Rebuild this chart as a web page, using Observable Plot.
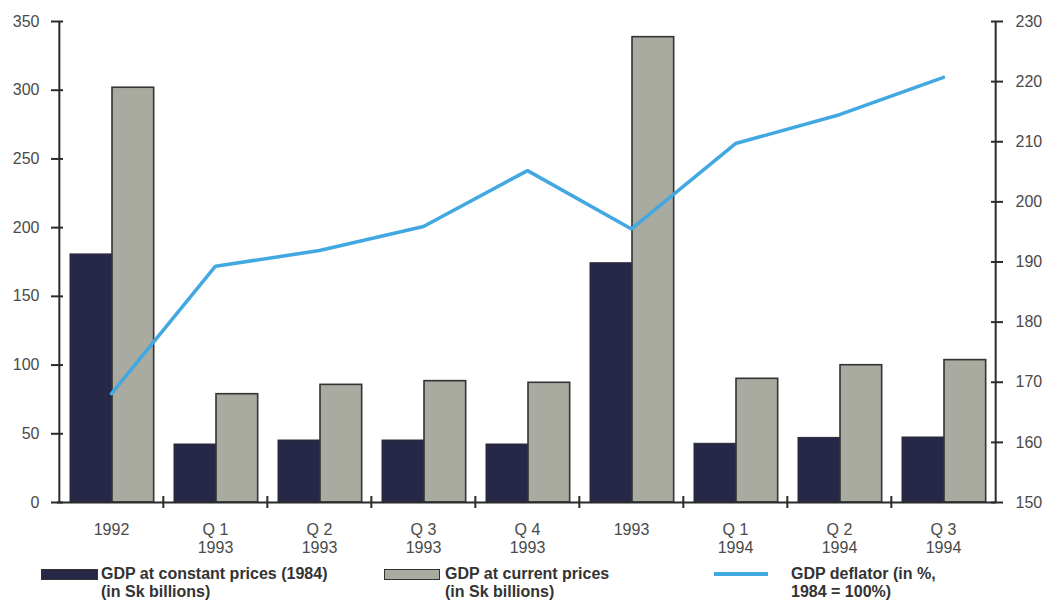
<!DOCTYPE html>
<html>
<head>
<meta charset="utf-8">
<script src="https://cdn.jsdelivr.net/npm/d3@7"></script>
<script src="https://cdn.jsdelivr.net/npm/@observablehq/plot@0.6"></script>
<style>
  html, body { margin: 0; padding: 0; background: #fff; }
  #wrap { position: relative; width: 1044px; height: 600px; font-family: "Liberation Sans", Arial, sans-serif; }
  #chart svg { display: block; }
  .key { position: absolute; top: 565px; font-weight: bold; font-size: 16px; line-height: 18px; color: #333; }
  .swatch { position: absolute; box-sizing: border-box; }
  .key span { display: block; }
</style>
</head>
<body>
<div id="wrap">
  <div id="chart"></div>
  <div class="swatch" style="left:41px;top:569px;width:57px;height:11px;background:#272848;border:1px solid #333;"></div>
  <div class="key" style="left:101px;"><span>GDP at constant prices (1984)</span><span>(in Sk billions)</span></div>
  <div class="swatch" style="left:384px;top:569px;width:56px;height:11px;background:#a9aaa0;border:1.5px solid #333;"></div>
  <div class="key" style="left:445px;"><span>GDP at current prices</span><span>(in Sk billions)</span></div>
  <div class="swatch" style="left:714px;top:572px;width:54px;height:4px;background:#42a8e1;"></div>
  <div class="key" style="left:791px;"><span>GDP deflator (in %,</span><span>1984 = 100%)</span></div>
</div>
<script>
// Periods on the x axis and their printed labels
const periods = ["1992", "Q1 1993", "Q2 1993", "Q3 1993", "Q4 1993", "1993", "Q1 1994", "Q2 1994", "Q3 1994"];
const periodLabels = ["1992", "Q 1\n1993", "Q 2\n1993", "Q 3\n1993", "Q 4\n1993", "1993", "Q 1\n1994", "Q 2\n1994", "Q 3\n1994"];

// GDP in Sk billions
const gdpConstant = [180.5, 42.2, 45.1, 45.1, 42.2, 174.1, 42.7, 47.0, 47.3];
const gdpCurrent = [301.8, 78.8, 85.6, 88.3, 87.1, 338.6, 90.0, 99.9, 103.6];

// GDP deflator, 1984 = 100%
const deflator = [168.1, 189.3, 191.9, 195.9, 205.2, 195.5, 209.7, 214.5, 220.7];

// Axis ticks
const leftTicks = [0, 50, 100, 150, 200, 250, 300, 350];
const rightTicks = [150, 160, 170, 180, 190, 200, 210, 220, 230];

const rows = periods.map((p, i) => ({
  period: p,
  label: periodLabels[i],
  constant: gdpConstant[i],
  current: gdpCurrent[i],
  deflator: deflator[i]
}));

// The deflator shares the left y scale: 150..230 on the right maps onto 0..350
const leftMax = 350, rMin = 150, rMax = 230;
const toLeft = v => (v - rMin) * leftMax / (rMax - rMin);
const fromLeft = v => v * (rMax - rMin) / leftMax + rMin;

const width = 1044, height = 560;
const marginLeft = 57, marginRight = 48, marginTop = 21, marginBottom = 58;
const step = (width - marginLeft - marginRight) / periods.length;
const barW = 42, lead = 11;

const labelOf = Object.fromEntries(rows.map(d => [d.period, d.label]));
const axisInk = "#2b2b2b", textInk = "#4a4a4a";

const chart = Plot.plot({
  width, height, marginLeft, marginRight, marginTop, marginBottom,
  style: { fontFamily: "'Liberation Sans', Arial, sans-serif", background: "#fff" },
  x: { type: "band", domain: periods, padding: 0 },
  y: { domain: [0, leftMax] },
  marks: [
    Plot.barY(rows, {
      x: "period", y: "constant", fill: "#272848", stroke: "#2a2a35", strokeWidth: 1,
      insetLeft: lead, insetRight: step - lead - barW
    }),
    Plot.barY(rows, {
      x: "period", y: "current", fill: "#a9aaa0", stroke: "#333", strokeWidth: 1.6,
      insetLeft: lead + barW, insetRight: step - lead - 2 * barW
    }),
    Plot.line(rows, {
      x: "period", y: d => toLeft(d.deflator), stroke: "#42a8e1", strokeWidth: 3.5,
      strokeLinejoin: "miter"
    }),
    // axis lines
    Plot.ruleY([0], { stroke: axisInk, strokeWidth: 2 }),
    Plot.ruleX([periods[0]], { dx: -step / 2, stroke: axisInk, strokeWidth: 2 }),
    Plot.ruleX([periods[periods.length - 1]], { dx: step / 2, stroke: axisInk, strokeWidth: 2 }),
    // left axis
    Plot.axisY(leftTicks, {
      anchor: "left", tickSize: 12, dx: 6, tickPadding: 12, fontSize: 16,
      stroke: axisInk, strokeWidth: 2, fill: textInk, label: null
    }),
    // right axis (deflator)
    Plot.axisY(rightTicks.map(toLeft), {
      anchor: "right", tickSize: 12, dx: -6, tickPadding: 13, fontSize: 16,
      tickFormat: v => String(Math.round(fromLeft(v))),
      stroke: axisInk, strokeWidth: 2, fill: textInk, label: null
    }),
    // x tick marks between periods
    Plot.axisX(periods.slice(1), {
      anchor: "bottom", tickSize: 12, dy: -6, dx: -step / 2, tickFormat: () => "",
      stroke: axisInk, strokeWidth: 2, label: null
    }),
    // x labels
    Plot.axisX(periods, {
      anchor: "bottom", tickSize: 0, tickPadding: 19, fontSize: 16, lineHeight: 1.15,
      tickFormat: d => labelOf[d], fill: textInk, label: null
    })
  ]
});

document.getElementById("chart").appendChild(chart);
</script>
</body>
</html>
